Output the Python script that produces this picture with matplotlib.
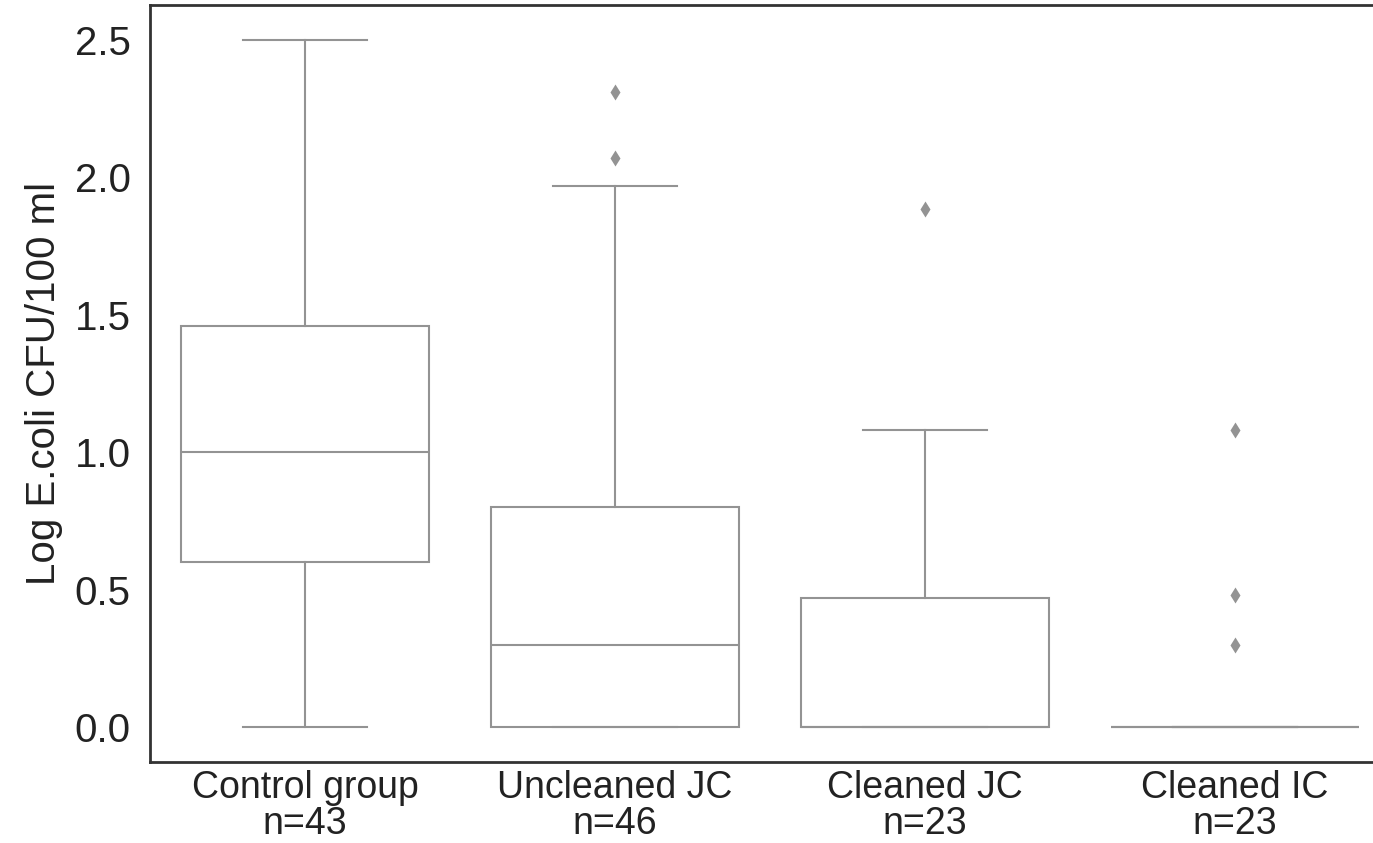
import matplotlib.pyplot as plt

plt.rcParams["font.family"] = ["Liberation Sans", "DejaVu Sans"]

groups = ["Control group\nn=43", "Uncleaned JC\nn=46", "Cleaned JC\nn=23", "Cleaned IC\nn=23"]
whislo = [0.0, 0.0, 0.0, 0.0]
q1 = [0.60, 0.0, 0.0, 0.0]
med = [1.0, 0.30, 0.0, 0.0]
q3 = [1.46, 0.80, 0.47, 0.0]
whishi = [2.5, 1.97, 1.08, 0.0]
fliers = [[], [2.07, 2.31], [1.885], [1.08, 0.48, 0.30]]

stats = []
for i in range(len(groups)):
    stats.append(dict(label=groups[i], whislo=whislo[i], q1=q1[i], med=med[i],
                      q3=q3[i], whishi=whishi[i], fliers=fliers[i]))

grey = "#939393"
fig = plt.figure(figsize=(13.73, 8.43), dpi=100)
ax = fig.add_axes([150 / 1373, 1 - 762 / 843, 1240 / 1373, 757 / 843])

line = dict(color=grey, linewidth=1.5)
ax.bxp(stats, positions=range(4), widths=0.8, patch_artist=True,
       boxprops=dict(facecolor="white", edgecolor=grey, linewidth=1.5),
       medianprops=line, whiskerprops=line, capprops=line,
       flierprops=dict(marker="d", markersize=8, markerfacecolor=grey,
                       markeredgecolor="none"))

ax.set_xlim(-0.5, 3.5)
ax.set_ylim(-0.127, 2.627)
ax.set_yticks([0.0, 0.5, 1.0, 1.5, 2.0, 2.5])
ax.set_yticklabels(["0.0", "0.5", "1.0", "1.5", "2.0", "2.5"])
ax.tick_params(axis="y", length=0, labelsize=29, colors="#222222", pad=14)
ax.tick_params(axis="x", length=0, labelsize=27, colors="#222222", pad=6)
for t in ax.get_xticklabels():
    t.set_linespacing(1.0)
ax.set_ylabel("Log E.coli CFU/100 ml", fontsize=29, color="#222222", labelpad=8)
ax.spines["right"].set_visible(False)
for s in ["left", "top", "bottom"]:
    ax.spines[s].set_color("#333333")
    ax.spines[s].set_linewidth(2)

fig.savefig("out.png", dpi=100)
